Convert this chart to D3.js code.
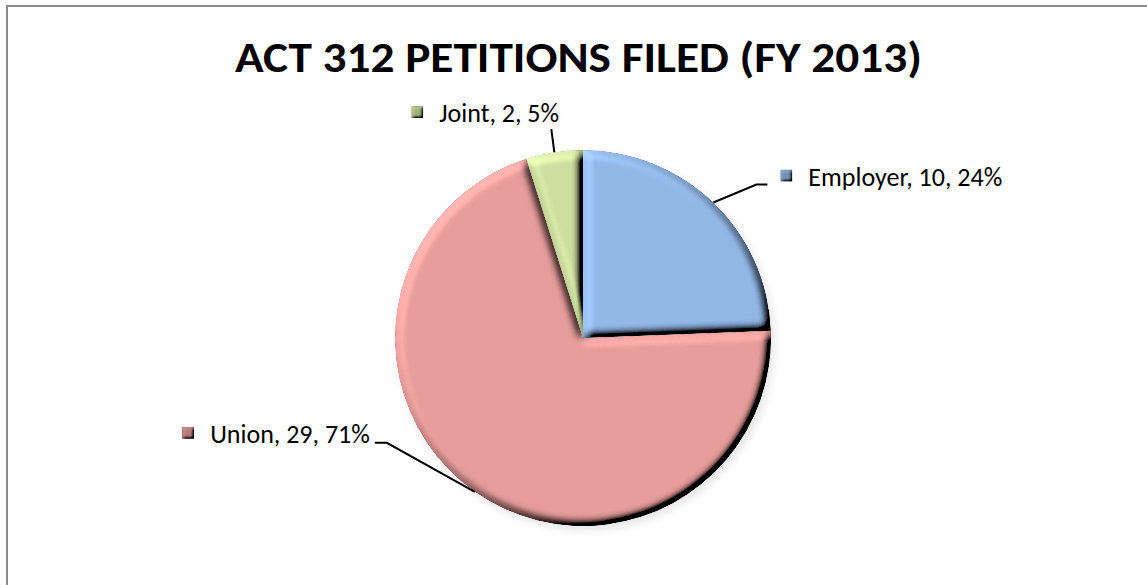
<!DOCTYPE html>
<html>
<head>
<meta charset="utf-8">
<title>ACT 312 Petitions Filed (FY 2013)</title>
<script src="https://d3js.org/d3.v7.min.js"></script>
<style>
	body { margin: 0; background: #fff; }
	svg { display: block; }
	.title { font-family: Carlito, Lato, "Open Sans", sans-serif; font-weight: bold; fill: #000; }
	.lbl { font-family: Carlito, Lato, "Open Sans", sans-serif; fill: #000; }
	.leader { fill: none; stroke: #000; stroke-width: 2px; }
</style>
</head>
<body>
<div id="chart"></div>
<script>
// data
var categories = ['Employer', 'Union', 'Joint'];
var petitions = [10, 29, 2];
var sliceColors = ['#93b8e8', '#e69d9b', '#cddf9f'];
var titleText = 'ACT 312 PETITIONS FILED (FY 2013)';

var width = 1147, height = 585;
var cx = 583, cy = 338, radius = 188;

var svg = d3.select('#chart').append('svg')
	.attr('width', width)
	.attr('height', height);

var defs = svg.append('defs');

// bevel like the office "circle" bevel: light from top-left
function makeBevel(id, blur, scale, k1){
	var f = defs.append('filter').attr('id', id)
		.attr('x', '-5%').attr('y', '-5%').attr('width', '110%').attr('height', '110%');
	f.append('feGaussianBlur').attr('in', 'SourceAlpha').attr('stdDeviation', blur).attr('result', 'blur');
	f.append('feDiffuseLighting').attr('in', 'blur').attr('surfaceScale', scale)
		.attr('diffuseConstant', 1).attr('lighting-color', '#fff').attr('result', 'light')
		.append('feDistantLight').attr('azimuth', 225).attr('elevation', 45);
	f.append('feComposite').attr('in', 'light').attr('in2', 'SourceAlpha').attr('operator', 'in').attr('result', 'lit');
	f.append('feComposite').attr('in', 'SourceGraphic').attr('in2', 'lit')
		.attr('operator', 'arithmetic').attr('k1', k1).attr('k2', 0).attr('k3', 0).attr('k4', 0);
}
makeBevel('bevel', 5, 10, 1.414);
makeBevel('smallBevel', 1.5, 3, 1.3);

var shadow = defs.append('filter').attr('id', 'shadow')
	.attr('x', '-10%').attr('y', '-10%').attr('width', '120%').attr('height', '120%');
shadow.append('feGaussianBlur').attr('in', 'SourceAlpha').attr('stdDeviation', 4);

// frame (only top and left edges are in the picture)
svg.append('rect')
	.attr('x', 7).attr('y', 6)
	.attr('width', width + 20).attr('height', height + 20)
	.attr('fill', '#fff')
	.attr('stroke', '#8c8c8c')
	.attr('stroke-width', 2);

// title
svg.append('text')
	.attr('class', 'title')
	.attr('x', 578.5)
	.attr('y', 72)
	.attr('text-anchor', 'middle')
	.attr('textLength', 687)
	.attr('lengthAdjust', 'spacingAndGlyphs')
	.style('font-size', '42px')
	.text(titleText);

var data = categories.map(function(c, i){
	return { name: c, value: petitions[i] };
});
var total = d3.sum(petitions);
var pct = d3.format('.0%');

var color = d3.scaleOrdinal().domain(categories).range(sliceColors);

var pie = d3.pie().sort(null).value(function(d){ return d.value; });
var arcs = pie(data);
var arc = d3.arc().innerRadius(0).outerRadius(radius);
var rim = d3.arc().innerRadius(radius).outerRadius(radius);

var g = svg.append('g').attr('transform', 'translate(' + cx + ',' + cy + ')');

// soft shadow below pie
g.append('circle')
	.attr('cx', 3).attr('cy', 4)
	.attr('r', radius)
	.attr('fill', '#000')
	.attr('opacity', 0.1)
	.attr('filter', 'url(#shadow)');

g.selectAll('.slice')
	.data(arcs)
	.enter()
	.append('path')
	.attr('class', 'slice')
	.attr('d', arc)
	.attr('fill', function(d){ return color(d.data.name); })
	.attr('filter', 'url(#bevel)');

// label layout: leader bend/end relative to rim point, label offset relative to end
var labelLayout = {
	Employer: { bend: [43, -18], end: [54, -18], dx: 13, dy: 1 },
	Union:    { bend: [-88, -49], end: [-100, -49], dx: -5, dy: 0, right: true },
	Joint:    { bend: [-3, -23], end: [-3, -23], dx: -140, dy: -7 }
};

var labels = svg.append('g').attr('transform', 'translate(' + cx + ',' + cy + ')');
var box = 12, gap = 16;

arcs.forEach(function(d){
	var p = rim.centroid(d);
	var L = labelLayout[d.data.name];
	var b = [p[0] + L.bend[0], p[1] + L.bend[1]];
	var e = [p[0] + L.end[0], p[1] + L.end[1]];
	labels.append('path')
		.attr('class', 'leader')
		.attr('d', d3.line()([p, b, e]));

	var txt = d.data.name + ', ' + d.data.value + ', ' + pct(d.data.value / total);
	var t = labels.append('text')
		.attr('class', 'lbl')
		.style('font-size', '26px')
		.text(txt);
	var tw = t.node().getComputedTextLength();
	var x0 = L.right ? e[0] + L.dx - (box + gap + tw) : e[0] + L.dx;
	var base = e[1] + L.dy;
	t.attr('x', x0 + box + gap).attr('y', base);
	labels.append('rect')
		.attr('x', x0)
		.attr('y', base - 16)
		.attr('width', box)
		.attr('height', box)
		.attr('fill', d3.color(color(d.data.name)).darker(0.6))
		.attr('filter', 'url(#smallBevel)');
});
</script>
</body>
</html>
